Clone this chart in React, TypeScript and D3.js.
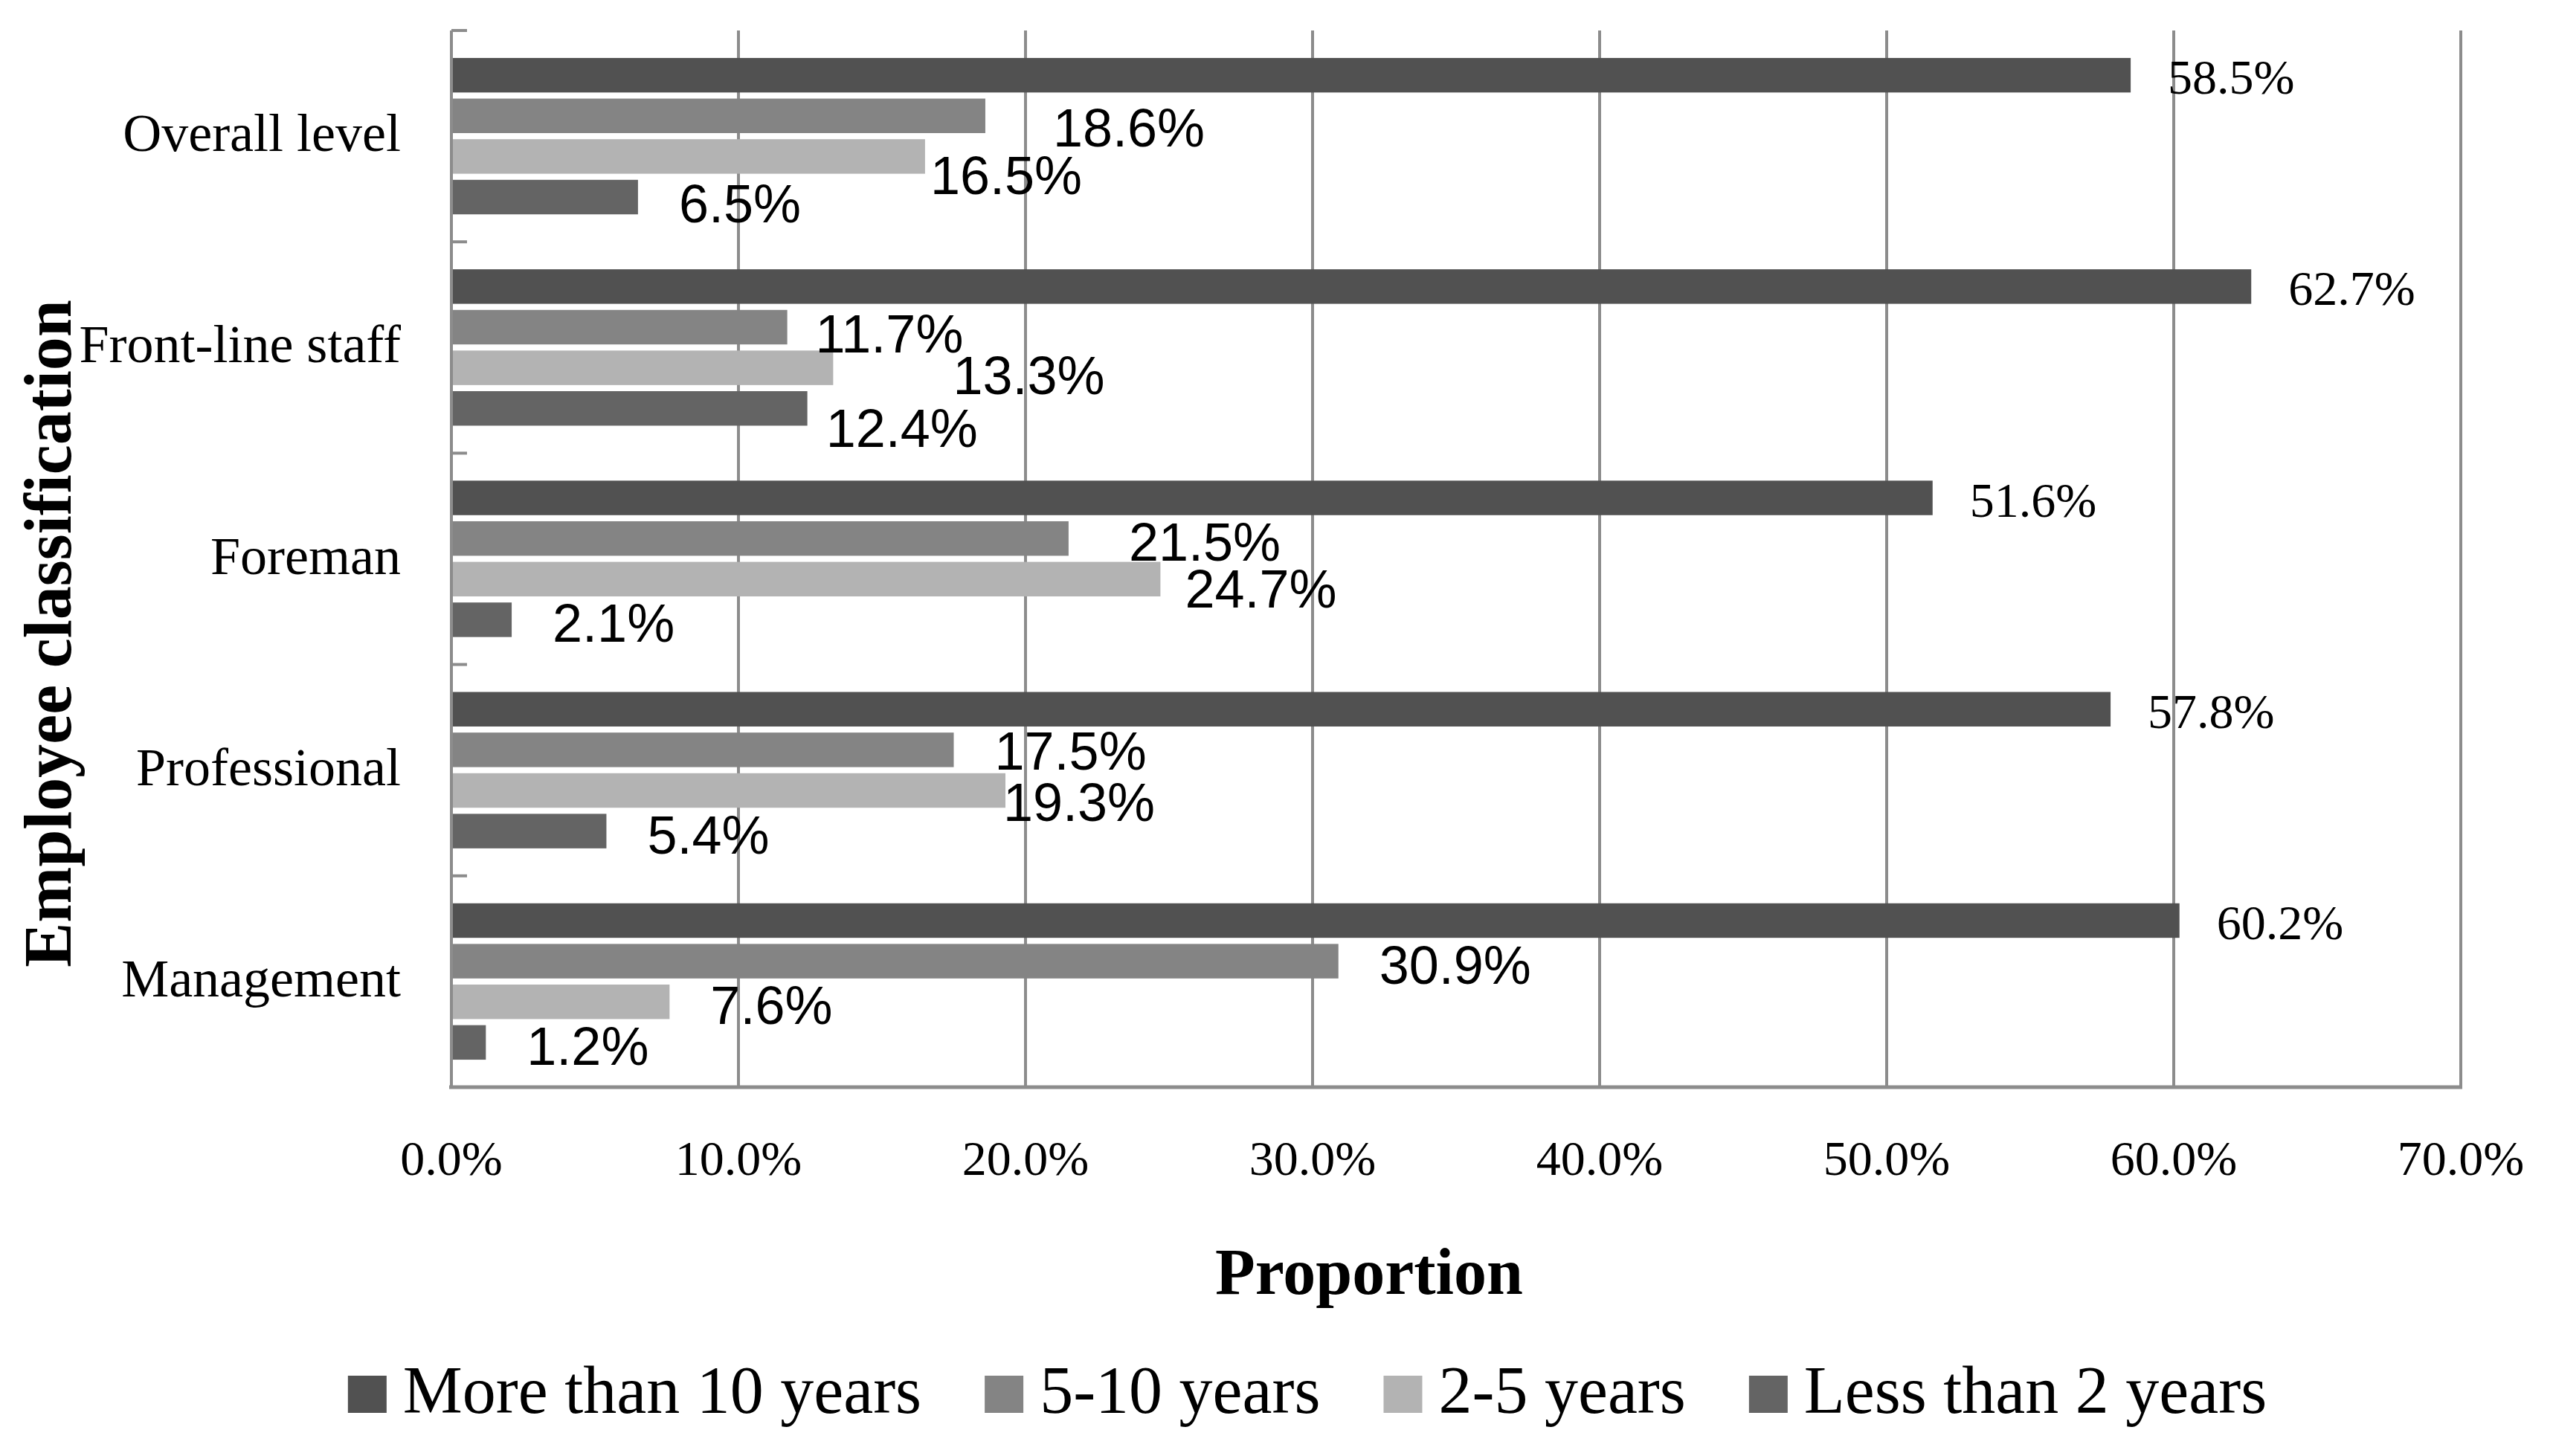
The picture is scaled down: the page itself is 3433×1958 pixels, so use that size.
import { useEffect, useRef } from "react"
import * as d3 from "d3"

const categories = ["Overall level", "Front-line staff", "Foreman", "Professional", "Management"]
const seriesNames = ["More than 10 years", "5-10 years", "2-5 years", "Less than 2 years"]
const moreThan10 = [58.5, 62.7, 51.6, 57.8, 60.2]
const fiveTo10 = [18.6, 11.7, 21.5, 17.5, 30.9]
const twoTo5 = [16.5, 13.3, 24.7, 19.3, 7.6]
const lessThan2 = [6.5, 12.4, 2.1, 5.4, 1.2]
const xTicks = [0, 10, 20, 30, 40, 50, 60, 70]

const seriesColors = ["#515151", "#848484", "#b3b3b3", "#646464"]
// hand-placed label offsets from the original (extra dx, extra dy)
const labelNudge: Record<string, [number, number]> = {
  "Overall level|5-10 years": [36, 11], "Overall level|2-5 years": [-48, 21], "Overall level|Less than 2 years": [0, 4],
  "Front-line staff|5-10 years": [-17, 4], "Front-line staff|2-5 years": [106, 5], "Front-line staff|Less than 2 years": [-30, 22],
  "Foreman|5-10 years": [26, 0], "Foreman|2-5 years": [-22, 8],
  "Professional|5-10 years": [0, -3], "Professional|2-5 years": [-58, 11],
}

const SERIF = "'Liberation Serif', 'Times New Roman', serif"
const SANS = "'Liberation Sans', Arial, sans-serif"

export default function App() {
  const ref = useRef<SVGSVGElement>(null)
  useEffect(() => {
    if (!ref.current) return
    document.body.style.margin = "0"
    const W = 3433, H = 1958
    const m = { left: 607, right: 3309, top: 41, bottom: 1462 }
    const svg = d3.select(ref.current)
    svg.selectAll("*").remove()
    svg.append("rect").attr("width", W).attr("height", H).attr("fill", "#fff")

    const values = [moreThan10, fiveTo10, twoTo5, lessThan2]
    const rows = categories.map((c, i) => ({ cat: c, vals: seriesNames.map((s, j) => ({ s, v: values[j][i] })) }))

    const x = d3.scaleLinear().domain([0, 70]).range([m.left, m.right])
    const y = d3.scaleBand().domain(categories).range([m.top, m.bottom])
    const bw = y.bandwidth()
    const pad = bw * 0.13
    const yi = d3.scaleBand().domain(seriesNames).range([pad, bw - pad]).paddingInner(0.15)

    // grid
    svg.append("g").selectAll("line").data(xTicks.slice(1)).join("line")
      .attr("x1", d => x(d)).attr("x2", d => x(d)).attr("y1", m.top).attr("y2", m.bottom)
      .attr("stroke", "#8c8c8c").attr("stroke-width", 4)
    svg.append("g").selectAll("text").data(xTicks).join("text")
      .attr("x", d => x(d)).attr("y", 1580).attr("text-anchor", "middle")
      .style("font-family", SERIF).style("font-size", "66px").attr("fill", "#000")
      .text(d => d.toFixed(1) + "%")

    // bars
    const g = svg.append("g").selectAll("g").data(rows).join("g")
      .attr("transform", d => `translate(0,${y(d.cat)})`)
    g.selectAll("rect").data(d => d.vals).join("rect")
      .attr("x", m.left).attr("y", d => yi(d.s)!).attr("height", yi.bandwidth())
      .attr("width", d => x(d.v) - m.left).attr("fill", (d, j) => seriesColors[j])

    // value labels
    g.each(function (row) {
      d3.select(this).selectAll("text").data(row.vals).join("text")
        .attr("x", (d, j) => {
          const n = labelNudge[row.cat + "|" + d.s] || [0, 0]
          return x(d.v) + (j === 0 ? 50 : 55) + n[0]
        })
        .attr("y", (d, j) => {
          const n = labelNudge[row.cat + "|" + d.s] || [0, 0]
          return yi(d.s)! + yi.bandwidth() / 2 + (j === 0 ? 25 : 30) + n[1]
        })
        .style("font-family", (d, j) => j === 0 ? SERIF : SANS)
        .style("font-size", (d, j) => j === 0 ? "66px" : "72px")
        .attr("fill", "#000")
        .text(d => d.v.toFixed(1) + "%")
    })

    // axes
    svg.append("line").attr("x1", m.left).attr("x2", m.left).attr("y1", m.top).attr("y2", m.bottom)
      .attr("stroke", "#8c8c8c").attr("stroke-width", 4)
    const bounds = categories.map(c => y(c)!).concat([m.bottom])
    svg.append("g").selectAll("line").data(bounds.slice(0, -1)).join("line")
      .attr("x1", m.left).attr("x2", m.left + 21).attr("y1", d => d).attr("y2", d => d)
      .attr("stroke", "#8c8c8c").attr("stroke-width", 4)
    svg.append("line").attr("x1", m.left - 3).attr("x2", m.right + 2).attr("y1", m.bottom).attr("y2", m.bottom)
      .attr("stroke", "#8c8c8c").attr("stroke-width", 5)

    // category labels
    svg.append("g").selectAll("text").data(categories).join("text")
      .attr("x", 539).attr("y", d => y(d)! + bw / 2 + 20).attr("text-anchor", "end")
      .style("font-family", SERIF).style("font-size", "72px").attr("fill", "#000").text(d => d)

    // titles
    svg.append("text").attr("transform", "translate(95,852) rotate(-90)").attr("text-anchor", "middle")
      .style("font-family", SERIF).style("font-size", "90px").style("font-weight", "bold").attr("fill", "#000")
      .text("Employee classification")
    svg.append("text").attr("x", 1841).attr("y", 1740).attr("text-anchor", "middle")
      .style("font-family", SERIF).style("font-size", "88px").style("font-weight", "bold").attr("fill", "#000")
      .text("Proportion")

    // legend
    const lg = svg.append("g")
    const sw = 52, gapText = 22, gapItem = 85
    let cx = 0
    seriesNames.forEach((s, j) => {
      lg.append("rect").attr("x", cx).attr("y", 1900 - 50).attr("width", sw).attr("height", 50).attr("fill", seriesColors[j])
      const t = lg.append("text").attr("x", cx + sw + gapText).attr("y", 1900)
        .style("font-family", SERIF).style("font-size", "90px").attr("fill", "#000").text(s)
      cx += sw + gapText + (t.node() as SVGTextElement).getComputedTextLength() + gapItem
    })
    const total = cx - gapItem
    lg.attr("transform", `translate(${1758 - total / 2},0)`)
  }, [])
  return <svg ref={ref} width={3433} height={1958} style={{ display: "block" }} />
}
